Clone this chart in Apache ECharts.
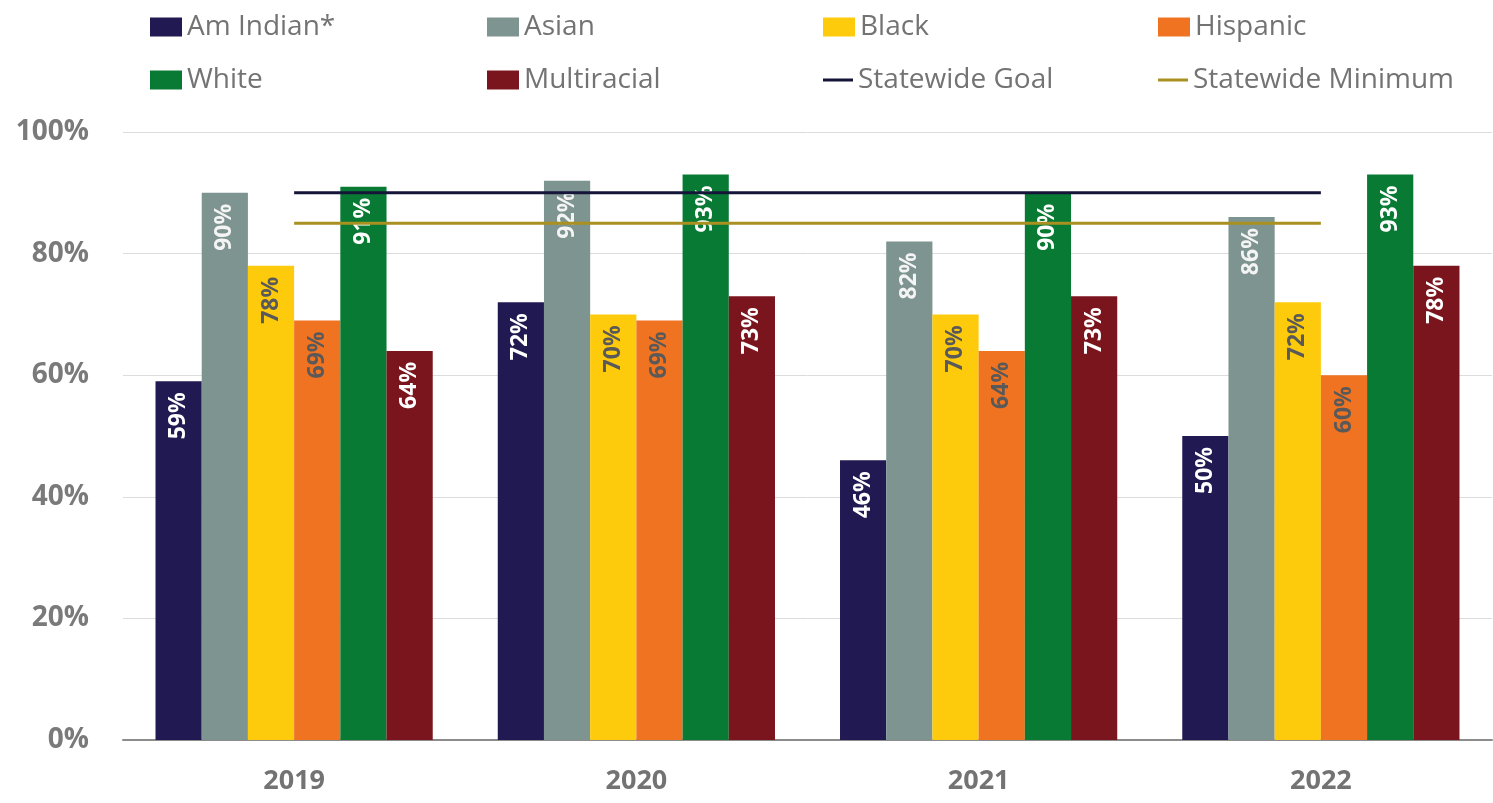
<!DOCTYPE html>
<html>
<head>
<meta charset="utf-8">
<title>Rates by group</title>
<script src="https://cdn.jsdelivr.net/npm/echarts@6/dist/echarts.min.js"></script>
<style>
  html, body { margin: 0; padding: 0; background: #fff; }
  #chart { width: 1493px; height: 803px; }
</style>
</head>
<body>
<div id="chart"></div>
<script>
const years = ['2019', '2020', '2021', '2022']
const groupNames = ['Am Indian*', 'Asian', 'Black', 'Hispanic', 'White', 'Multiracial']
const amIndian = [59, 72, 46, 50]
const asian = [90, 92, 82, 86]
const black = [78, 70, 70, 72]
const hispanic = [69, 69, 64, 60]
const white = [91, 93, 90, 93]
const multiracial = [64, 73, 73, 78]
const statewideGoal = [90, 90, 90, 90]
const statewideMinimum = [85, 85, 85, 85]
const yTicks = [0, 20, 40, 60, 80, 100]

const barValues = [amIndian, asian, black, hispanic, white, multiracial]
const barColors = ['#211951', '#7e9490', '#fdcb0c', '#ef7321', '#087a33', '#7b151d']
const labelColors = ['#ffffff', '#f4f4f4', '#595959', '#595959', '#ffffff', '#ffffff']
const font = '"Open Sans", "Liberation Sans", sans-serif'

let chart = echarts.init(document.getElementById('chart'))

let barSeries = groupNames.map(function (name, i) {
  return {
    name: name,
    type: 'bar',
    barGap: 0,
    barCategoryGap: '19%',
    itemStyle: { color: barColors[i] },
    label: {
      show: true,
      position: 'insideTop',
      distance: 11,
      rotate: 90,
      align: 'right',
      verticalAlign: 'middle',
      formatter: '{c}%',
      color: labelColors[i],
      fontFamily: font,
      fontWeight: 'bold',
      fontSize: 23
    },
    data: barValues[i]
  }
})

let lineSeries = [
  { name: 'Statewide Goal', color: '#15153a', data: statewideGoal },
  { name: 'Statewide Minimum', color: '#a99021', data: statewideMinimum }
].map(function (s) {
  return {
    name: s.name,
    type: 'line',
    symbol: 'none',
    z: 5,
    itemStyle: { color: s.color },
    lineStyle: { color: s.color, width: 3 },
    data: s.data
  }
})

// legend laid out as a 4 x 2 grid, one legend per item
let legendItems = groupNames.concat(['Statewide Goal', 'Statewide Minimum'])
let legendOrder = ['Am Indian*', 'Asian', 'Black', 'Hispanic', 'White', 'Multiracial', 'Statewide Goal', 'Statewide Minimum']
let colX = [145, 482, 818, 1153]
let rowY = [8, 61]
let legends = legendOrder.map(function (name, k) {
  let isLine = name.indexOf('Statewide') === 0
  return {
    data: [name],
    left: colX[k % 4],
    top: rowY[Math.floor(k / 4)],
    icon: 'rect',
    itemWidth: isLine ? 30 : 32,
    itemHeight: isLine ? 3 : 19,
    selectedMode: false,
    textStyle: { fontFamily: font, fontSize: 28, color: '#737373' }
  }
})

let option = {
  animation: false,
  backgroundColor: '#ffffff',
  legend: legends,
  grid: { left: 123, right: 1, top: 132, bottom: 63, containLabel: false },
  xAxis: {
    type: 'category',
    data: years,
    axisTick: { show: false },
    axisLine: { lineStyle: { color: '#8c8c8c', width: 2 } },
    axisLabel: {
      margin: 28,
      fontFamily: font,
      fontWeight: 'bold',
      fontSize: 27,
      color: '#737373'
    }
  },
  yAxis: {
    type: 'value',
    min: yTicks[0],
    max: yTicks[yTicks.length - 1],
    interval: 20,
    axisLine: { show: false },
    axisTick: { show: false },
    splitLine: { lineStyle: { color: '#dcdcdc', width: 1 } },
    axisLabel: {
      margin: 34,
      formatter: '{value}%',
      fontFamily: font,
      fontWeight: 'bold',
      fontSize: 28,
      color: '#7a7a7a'
    }
  },
  series: barSeries.concat(lineSeries)
}
chart.setOption(option)
</script>
</body>
</html>
